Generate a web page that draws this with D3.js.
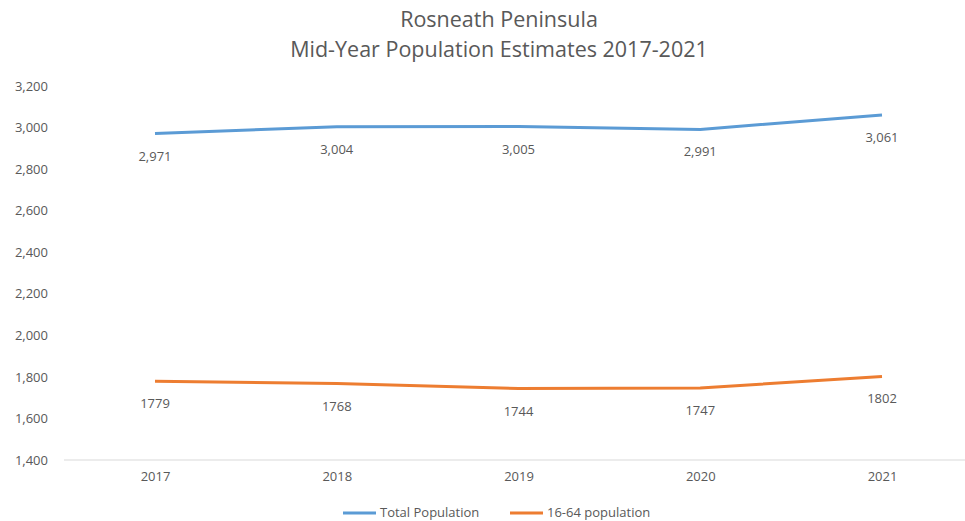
<!DOCTYPE html>
<html>
<head>
<meta charset="utf-8">
<script src="https://cdn.jsdelivr.net/npm/d3@7"></script>
<style>
  body { margin: 0; background: #fff; }
  text { font-family: "Open Sans", "Liberation Sans", sans-serif; fill: #595959; }
</style>
</head>
<body>
<script>
const years = ["2017", "2018", "2019", "2020", "2021"];
const totalPop = [2971, 3004, 3005, 2991, 3061];
const workingPop = [1779, 1768, 1744, 1747, 1802];
const yTicks = [1400, 1600, 1800, 2000, 2200, 2400, 2600, 2800, 3000, 3200];

const width = 965;
const height = 521;

const svg = d3.select("body")
  .append("svg")
  .attr("width", width)
  .attr("height", height);

const xScale = d3.scalePoint()
  .domain(years)
  .range([155, 882]);

const yScale = d3.scaleLinear()
  .domain([1400, 3200])
  .range([460, 86]);

// title
svg.append("text")
  .attr("x", 499).attr("y", 27)
  .attr("text-anchor", "middle")
  .attr("font-size", 21.5)
  .text("Rosneath Peninsula");
svg.append("text")
  .attr("x", 499).attr("y", 57)
  .attr("text-anchor", "middle")
  .attr("font-size", 21.5)
  .text("Mid-Year Population Estimates 2017-2021");

// y axis labels
const yAxis = d3.axisLeft(yScale)
  .tickValues(yTicks)
  .tickFormat(d3.format(","))
  .tickSize(0)
  .tickPadding(0);
const yG = svg.append("g")
  .attr("transform", "translate(48,0)")
  .call(yAxis);
yG.select(".domain").remove();
yG.selectAll("text").attr("font-size", 13).attr("fill", "#595959")
  .style("font-family", "'Open Sans', sans-serif");

// baseline
svg.append("line")
  .attr("x1", 64).attr("x2", 965)
  .attr("y1", yScale(1400)).attr("y2", yScale(1400))
  .attr("stroke", "#d9d9d9").attr("stroke-width", 1);

// x axis labels
const xAxis = d3.axisBottom(xScale).tickSize(0).tickPadding(12);
const xG = svg.append("g")
  .attr("transform", "translate(0," + yScale(1400) + ")")
  .call(xAxis);
xG.select(".domain").remove();
xG.selectAll("text").attr("font-size", 13).attr("fill", "#595959")
  .style("font-family", "'Open Sans', sans-serif");

const line = d3.line()
  .x((d, i) => xScale(years[i]))
  .y(d => yScale(d));

const series = [
  { name: "Total Population", values: totalPop, color: "#5B9BD5", fmt: d3.format(",") },
  { name: "16-64 population", values: workingPop, color: "#ED7D31", fmt: d => String(d) }
];

series.forEach(s => {
  svg.append("path")
    .datum(s.values)
    .attr("d", line)
    .attr("fill", "none")
    .attr("stroke", s.color)
    .attr("stroke-width", 3)
    .attr("stroke-linejoin", "round");

  svg.selectAll(null)
    .data(s.values)
    .enter()
    .append("text")
    .attr("x", (d, i) => xScale(years[i]))
    .attr("y", d => yScale(d) + 27)
    .attr("text-anchor", "middle")
    .attr("font-size", 13)
    .attr("fill", "#404040")
    .text(s.fmt);
});

// legend
const legendX = [343, 510];
series.forEach((s, i) => {
  svg.append("line")
    .attr("x1", legendX[i]).attr("x2", legendX[i] + 33)
    .attr("y1", 513).attr("y2", 513)
    .attr("stroke", s.color).attr("stroke-width", 3);
  svg.append("text")
    .attr("x", legendX[i] + 37).attr("y", 517)
    .attr("font-size", 13)
    .text(s.name);
});
</script>
</body>
</html>
